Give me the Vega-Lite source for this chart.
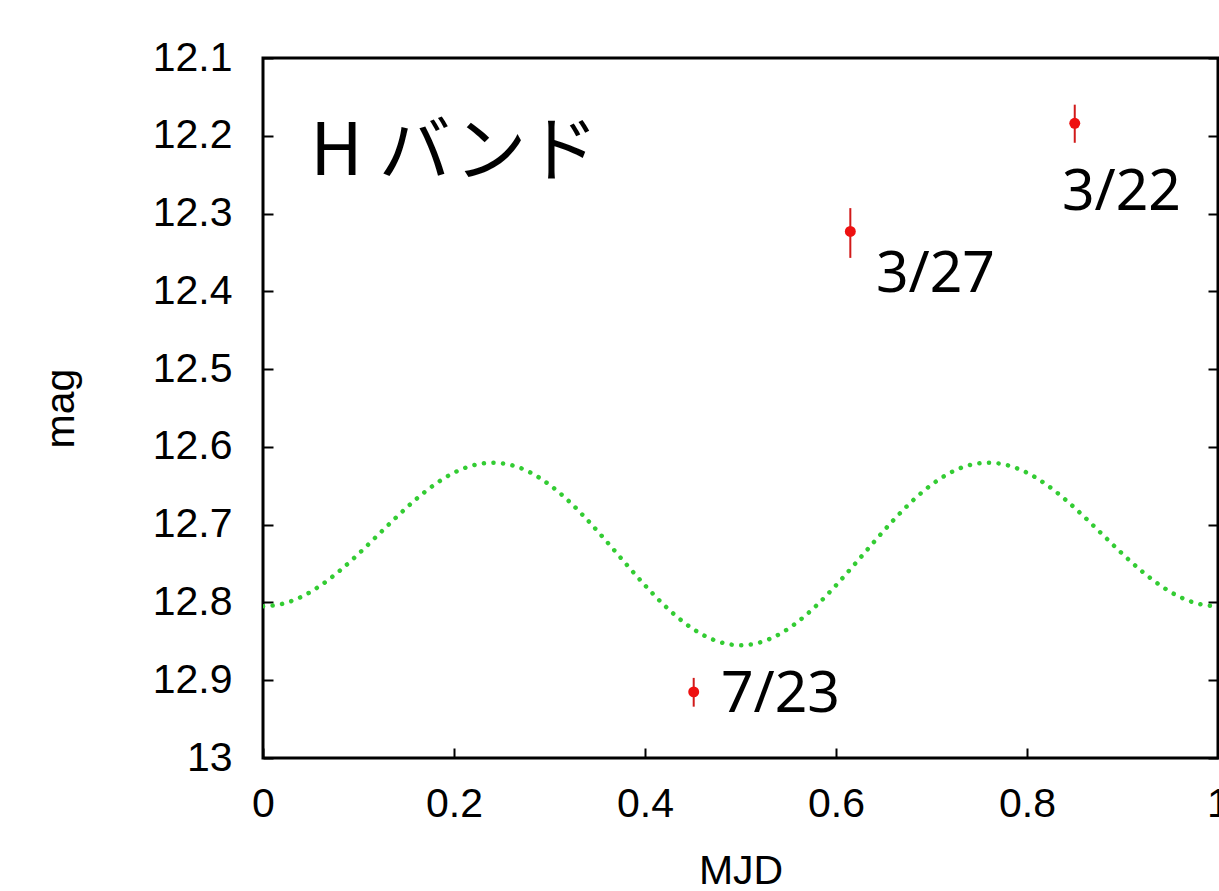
{
  "$schema": "https://vega.github.io/schema/vega-lite/v6.json",
  "width": 955,
  "height": 700,
  "autosize": {"type": "none"},
  "padding": {"left": 263, "top": 58, "right": 1, "bottom": 133},
  "background": "white",
  "config": {
    "view": {"stroke": "#000", "strokeWidth": 3},
    "axis": {
      "domain": false,
      "grid": false,
      "tickSize": -10,
      "tickWidth": 2,
      "tickColor": "#000",
      "labelFont": "Liberation Sans",
      "labelFontSize": 41,
      "labelColor": "#000",
      "titleFont": "Liberation Sans",
      "titleFontSize": 41,
      "titleFontWeight": "normal",
      "titleColor": "#000",
      "labelFlush": false,
      "labelOverlap": false
    }
  },
  "datasets": {
    "curve": [
      {"phase": 0.00, "mag": 12.8050}, {"phase": 0.02, "mag": 12.8019}, {"phase": 0.04, "mag": 12.7929},
      {"phase": 0.06, "mag": 12.7784}, {"phase": 0.08, "mag": 12.7596}, {"phase": 0.10, "mag": 12.7376},
      {"phase": 0.12, "mag": 12.7138}, {"phase": 0.14, "mag": 12.6900}, {"phase": 0.16, "mag": 12.6676},
      {"phase": 0.18, "mag": 12.6482}, {"phase": 0.20, "mag": 12.6332}, {"phase": 0.22, "mag": 12.6237},
      {"phase": 0.24, "mag": 12.6203}, {"phase": 0.26, "mag": 12.6234}, {"phase": 0.28, "mag": 12.6330},
      {"phase": 0.30, "mag": 12.6487}, {"phase": 0.32, "mag": 12.6695}, {"phase": 0.34, "mag": 12.6944},
      {"phase": 0.36, "mag": 12.7219}, {"phase": 0.38, "mag": 12.7503}, {"phase": 0.40, "mag": 12.7780},
      {"phase": 0.42, "mag": 12.8034}, {"phase": 0.44, "mag": 12.8249}, {"phase": 0.46, "mag": 12.8413},
      {"phase": 0.48, "mag": 12.8515}, {"phase": 0.50, "mag": 12.8550}, {"phase": 0.52, "mag": 12.8515},
      {"phase": 0.54, "mag": 12.8413}, {"phase": 0.56, "mag": 12.8249}, {"phase": 0.58, "mag": 12.8034},
      {"phase": 0.60, "mag": 12.7780}, {"phase": 0.62, "mag": 12.7503}, {"phase": 0.64, "mag": 12.7219},
      {"phase": 0.66, "mag": 12.6944}, {"phase": 0.68, "mag": 12.6695}, {"phase": 0.70, "mag": 12.6487},
      {"phase": 0.72, "mag": 12.6330}, {"phase": 0.74, "mag": 12.6234}, {"phase": 0.76, "mag": 12.6203},
      {"phase": 0.78, "mag": 12.6237}, {"phase": 0.80, "mag": 12.6332}, {"phase": 0.82, "mag": 12.6482},
      {"phase": 0.84, "mag": 12.6676}, {"phase": 0.86, "mag": 12.6900}, {"phase": 0.88, "mag": 12.7138},
      {"phase": 0.90, "mag": 12.7376}, {"phase": 0.92, "mag": 12.7596}, {"phase": 0.94, "mag": 12.7784},
      {"phase": 0.96, "mag": 12.7929}, {"phase": 0.98, "mag": 12.8019}, {"phase": 1.00, "mag": 12.8050}
    ],
    "obs": [
      {"phase": 0.451, "mag": 12.915, "lo": 12.897, "hi": 12.934, "date": "7/23", "lx": 0.4795, "ly": 12.9408},
      {"phase": 0.615, "mag": 12.323, "lo": 12.293, "hi": 12.357, "date": "3/27", "lx": 0.6418, "ly": 12.4008},
      {"phase": 0.850, "mag": 12.184, "lo": 12.160, "hi": 12.209, "date": "3/22", "lx": 0.8366, "ly": 12.2954}
    ],
    "band": [
      {"phase": 0.0495, "mag": 12.2504, "label": "H バンド"}
    ]
  },
  "layer": [
    {
      "data": {"name": "curve"},
      "mark": {"type": "line", "color": "#33cc33", "strokeWidth": 4.5, "strokeDash": [0.1, 9.5], "strokeCap": "round", "interpolate": "monotone", "clip": true},
      "encoding": {
        "x": {"field": "phase", "type": "quantitative", "scale": {"domain": [0, 1], "nice": false, "zero": false},
              "axis": {"orient": "bottom", "title": "MJD", "values": [0, 0.2, 0.4, 0.6, 0.8, 1], "labelExpr": "format(datum.value, '~g')", "labelPadding": 36, "titlePadding": 27}},
        "y": {"field": "mag", "type": "quantitative", "scale": {"domain": [12.1, 13], "reverse": true, "nice": false, "zero": false},
              "axis": {"orient": "left", "title": "mag", "values": [12.1, 12.2, 12.3, 12.4, 12.5, 12.6, 12.7, 12.8, 12.9, 13], "labelExpr": "format(datum.value, '~g')", "labelPadding": 41, "titlePadding": 70}}
      }
    },
    {
      "data": {"name": "obs"},
      "mark": {"type": "rule", "color": "#d11a1a", "strokeWidth": 2},
      "encoding": {
        "x": {"field": "phase", "type": "quantitative"},
        "y": {"field": "lo", "type": "quantitative", "axis": {"orient": "right", "title": null, "labels": false, "values": [12.1, 12.2, 12.3, 12.4, 12.5, 12.6, 12.7, 12.8, 12.9, 13]}},
        "y2": {"field": "hi"}
      }
    },
    {
      "data": {"name": "obs"},
      "mark": {"type": "circle", "color": "#ee1111", "opacity": 1, "size": 120},
      "encoding": {
        "x": {"field": "phase", "type": "quantitative"},
        "y": {"field": "mag", "type": "quantitative", "axis": null}
      }
    },
    {
      "data": {"name": "obs"},
      "mark": {"type": "text", "font": "Noto Sans", "fontSize": 57, "align": "left", "baseline": "alphabetic", "color": "#000"},
      "encoding": {
        "x": {"field": "lx", "type": "quantitative"},
        "y": {"field": "ly", "type": "quantitative", "axis": null},
        "text": {"field": "date"}
      }
    },
    {
      "data": {"name": "band"},
      "mark": {"type": "text", "font": "Noto Sans CJK JP", "fontSize": 72, "align": "left", "baseline": "alphabetic", "color": "#000"},
      "encoding": {
        "x": {"field": "phase", "type": "quantitative"},
        "y": {"field": "mag", "type": "quantitative", "axis": null},
        "text": {"field": "label"}
      }
    }
  ],
  "resolve": {"axis": {"y": "independent"}}
}
